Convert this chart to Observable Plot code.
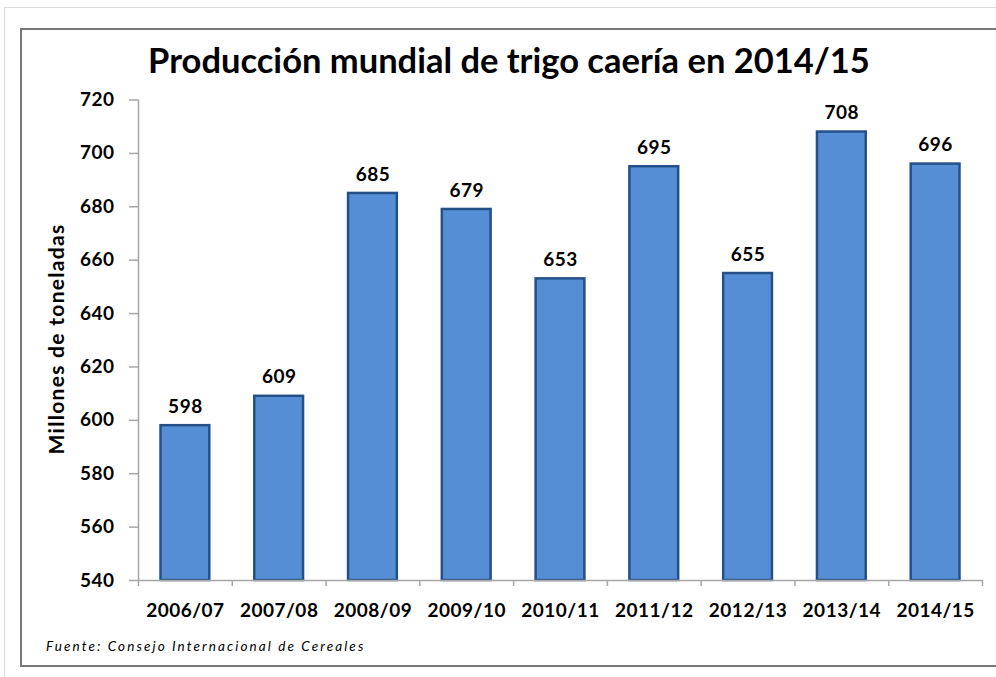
<!DOCTYPE html>
<html>
<head>
<meta charset="utf-8">
<script src="https://cdn.jsdelivr.net/npm/d3@7"></script>
<script src="https://cdn.jsdelivr.net/npm/@observablehq/plot@0.6"></script>
<style>
  body { margin: 0; background: #fff; }
  #wrap { position: relative; width: 996px; height: 677px; overflow: hidden; background: #fff; font-family: Lato, "Open Sans", sans-serif; }
  .outer { position: absolute; left: 4px; top: 7px; width: 1200px; height: 1000px; border: 1px solid #d9d9d9; }
  .frame { position: absolute; left: 20px; top: 28px; width: 1200px; height: 635px; border: 2px solid #787878; }
  #chart { position: absolute; left: 0; top: 0; }
  .title { position: absolute; left: 0; width: 1018px; top: 39px; text-align: center; font-size: 34.5px; font-weight: bold; color: #000; white-space: nowrap; }
  .ylabel { position: absolute; left: 55px; top: 339px; transform: translate(-50%, -50%) rotate(-90deg); font-size: 21px; letter-spacing: 1.3px; font-weight: bold; white-space: nowrap; color: #000; }
  .source { position: absolute; left: 46px; top: 638px; font-size: 13.5px; font-style: italic; letter-spacing: 2.1px; color: #000; white-space: nowrap; }
  #chart svg text { letter-spacing: 0.5px; }
</style>
</head>
<body>
<div id="wrap">
  <div class="outer"></div>
  <div class="frame"></div>
  <div id="chart"></div>
  <div class="title">Producción mundial de trigo caería en 2014/15</div>
  <div class="ylabel">Millones de toneladas</div>
  <div class="source">Fuente: Consejo Internacional de Cereales</div>
</div>
<script>
const categories = ["2006/07", "2007/08", "2008/09", "2009/10", "2010/11", "2011/12", "2012/13", "2013/14", "2014/15"];
const values = [598, 609, 685, 679, 653, 695, 655, 708, 696];
const yTicks = [540, 560, 580, 600, 620, 640, 660, 680, 700, 720];

const idx = d3.range(categories.length);
const axisGrey = "#a6a6a6";

const chart = Plot.plot({
  width: 996,
  height: 677,
  marginLeft: 138,
  marginRight: 14,
  marginTop: 99.5,
  marginBottom: 97,
  style: { fontFamily: "Lato, 'Open Sans', sans-serif", fontWeight: "bold", color: "#000", background: "transparent" },
  x: { domain: [0, categories.length], axis: null },
  y: { domain: [540, 720], axis: null },
  marks: [
    Plot.rectY(idx, {
      x1: i => i,
      x2: i => i + 1,
      y1: 540,
      y2: i => values[i],
      insetLeft: 22.5,
      insetRight: 22.5,
      fill: "#558ed5",
      stroke: "#24508a",
      strokeWidth: 2.5
    }),
    Plot.ruleY([540], { stroke: axisGrey, strokeWidth: 1.5 }),
    Plot.ruleX([0], { stroke: axisGrey, strokeWidth: 1.5 }),
    Plot.axisY({ ticks: yTicks, tickSize: 9, tickPadding: 15, stroke: axisGrey, strokeWidth: 1.5, fill: "#000", fontSize: 19, label: null, tickFormat: d => String(d) }),
    Plot.axisX({ ticks: d3.range(categories.length + 1), tickSize: 6, tickFormat: () => "", stroke: axisGrey, strokeWidth: 1.5, label: null }),
    Plot.axisX({ ticks: idx.map(i => i + 0.5), tickSize: 0, tickPadding: 23, tickFormat: d => categories[Math.round(d - 0.5)], fill: "#000", fontSize: 19, label: null }),
    Plot.text(idx, {
      x: i => i + 0.5,
      y: i => values[i],
      text: i => String(values[i]),
      dy: -19,
      fontSize: 19,
      fill: "#000"
    })
  ]
});
document.getElementById("chart").appendChild(chart);
</script>
</body>
</html>
